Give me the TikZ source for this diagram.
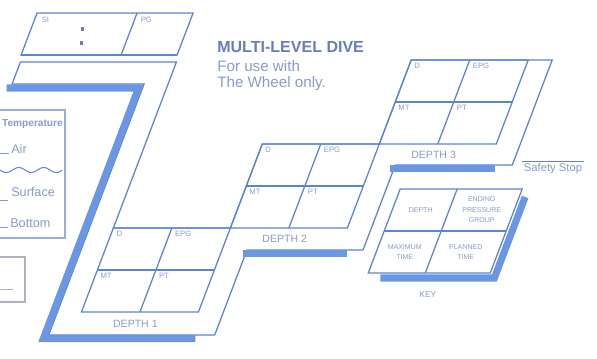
\documentclass[tikz,border=0pt]{standalone}
\usepackage{fontspec}
\setmainfont{Liberation Sans}
\usepackage{tikz}
\usetikzlibrary{positioning}
\usepackage{xcolor}
\definecolor{mldblue}{RGB}{92,132,214}
\definecolor{mldshade}{RGB}{106,150,228}
\definecolor{mldtext}{RGB}{135,155,205}
\definecolor{mldhead}{RGB}{105,125,190}
\definecolor{mldframe}{RGB}{150,175,225}
\definecolor{mldgrey}{RGB}{175,178,192}
\tikzset{
  mldline/.style={draw=mldblue, line width=0.9pt},
  mldband/.style={draw=mldshade, line width=5pt},
  mldcell/.style={anchor=north west, inner sep=0pt, text=mldtext, font=\fontsize{5.5}{5.5}\selectfont},
  mlddepth/.style={inner sep=1pt, text=mldtext, font=\fontsize{7.5}{8}\selectfont},
  mldkey/.style={inner sep=0pt, align=center, text=mldtext, font=\fontsize{5}{7.5}\selectfont},
  mldnote/.style={inner sep=0pt, text=mldtext, font=\fontsize{9}{10}\selectfont},
  mlddot/.style={fill=mldhead},
}

\begin{document}
\begin{tikzpicture}[x=0.025cm, y=-0.025cm]
  \useasboundingbox (0,0) rectangle (597,358);
  \clip (0,0) rectangle (597,358);

  % plates, drawn in slanted coordinates
  \begin{scope}[xslant=0.38]
    % surface interval box
    \draw[mldline] (42,13) rectangle (198,55);
    \draw[mldline] (142,13) -- (142,55);
    \draw[mldline, line width=1.4pt] (42,55) -- (198,55);
    \node[mldcell] (si) at (48,17) {SI};
    \node[mldcell] (pg) at (147,17) {PG};

    % outline of the dive profile
    \draw[mldline] (176,335) -- (176,84) -- (44,84) -- (44,62) -- (200,62) -- (200,228)
      -- (317,228) -- (317,144) -- (434,144) -- (434,60) -- (575,60) -- (575,165)
      -- (458,165) -- (458,250) -- (342,250) -- (342,335) -- cycle;

    % depth 1
    \draw[mldline] (200,228) rectangle (317,312);
    \draw[mldline] (200,270) -- (317,270);
    \draw[mldline] (258.5,228) -- (258.5,312);
    \node[mldcell] (d1d) at (204,231) {D};
    \node[mldcell] (d1g) at (262.5,231) {EPG};
    \node[mldcell] (d1m) at (204,273) {MT};
    \node[mldcell] (d1p) at (262.5,273) {PT};
    \node[mlddepth] (d1lbl) at (258.5,324) {DEPTH 1};

    % depth 2
    \draw[mldline] (317,144) rectangle (434,228);
    \draw[mldline] (317,186) -- (434,186);
    \draw[mldline] (375.5,144) -- (375.5,228);
    \node[mldcell] (d2d) at (321,147) {D};
    \node[mldcell] (d2g) at (379.5,147) {EPG};
    \node[mldcell] (d2m) at (321,189) {MT};
    \node[mldcell] (d2p) at (379.5,189) {PT};
    \node[mlddepth] (d2lbl) at (375.5,239) {DEPTH 2};

    % depth 3
    \draw[mldline] (434,60) rectangle (551,144);
    \draw[mldline] (434,102) -- (551,102);
    \draw[mldline] (492.5,60) -- (492.5,144);
    \node[mldcell] (d3d) at (438,63) {D};
    \node[mldcell] (d3g) at (496.5,63) {EPG};
    \node[mldcell] (d3m) at (438,105) {MT};
    \node[mldcell] (d3p) at (496.5,105) {PT};
    \node[mlddepth] (d3lbl) at (492.5,155) {DEPTH 3};

    % shadows
    \draw[mldband] (40,88) -- (172,88) -- (172,338.5) -- (324,338.5);
    \draw[mldband] (339,253.5) -- (443,253.5);
    \draw[mldband] (454,168.5) -- (559,168.5);

    % key
    \draw[mldline] (472,189) rectangle (594,273);
    \draw[mldline] (472,231) -- (594,231);
    \draw[mldline] (529,189) -- (529,273);
    \draw[mldband] (486,278) -- (600,278) -- (600,197);
    \node[mldkey] (kdep) at (500.5,210) {DEPTH};
    \node[mldkey] (kepg) at (561.5,210) {ENDING\\PRESSURE\\GROUP};
    \node[mldkey] (kmax) at (500.5,252) {MAXIMUM\\TIME};
    \node[mldkey] (kpln) at (561.5,252) {PLANNED\\TIME};
    \node[mlddepth, font=\fontsize{6}{7}\selectfont] (klbl) at (540,295) {KEY};
  \end{scope}

  \fill[mlddot] (80.5,27) rectangle (84,30.5);
  \fill[mlddot] (79.5,41) rectangle (83,44.5);

  % title
  \node[anchor=west, inner sep=0pt, text=mldhead, font=\fontsize{11.4}{12}\bfseries] (title) at (217,47) {MULTI-LEVEL DIVE};
  \node[mldnote, font=\fontsize{10.8}{10.8}\selectfont, align=left, below=5.5pt of title.south west, anchor=north west] (sub) {For use with\\The Wheel only.};

  % safety stop
  \node[mldnote, font=\fontsize{8}{9}\selectfont, inner sep=1.5pt] (stop) at (553,169) {Safety Stop};
  \draw[mldline, line width=0.8pt] (stop.north west) -- (stop.north east);

  % temperature legend
  \draw[draw=mldframe, line width=1pt] (-5,110) rectangle (65,238);
  \node[mldnote, anchor=base east, font=\fontsize{7.2}{8}\bfseries] (temp) at (63,126) {Temperature};
  \node[mldnote, anchor=base west] (air) at (11,153) {Air};
  \node[mldnote, anchor=base west] (surf) at (11,196) {Surface};
  \node[mldnote, anchor=base west] (bot) at (10,227) {Bottom};
  \draw[mldtext, line width=0.6pt] (-5,153) -- (9,153);
  \draw[mldtext, line width=0.6pt] (-5,200) -- (8,200);
  \draw[mldtext, line width=0.6pt] (-5,227) -- (8,227);
  \draw[mldblue, line width=0.7pt] plot[domain=-5:62, samples=60, smooth] (\x, {170+2.5*sin(14.4*\x)});

  % time box
  \draw[draw=mldgrey, line width=0.8pt] (-5,257) rectangle (25,302);
  \draw[mldgrey, line width=0.6pt] (-5,289) -- (13,289);
\end{tikzpicture}
\end{document}
